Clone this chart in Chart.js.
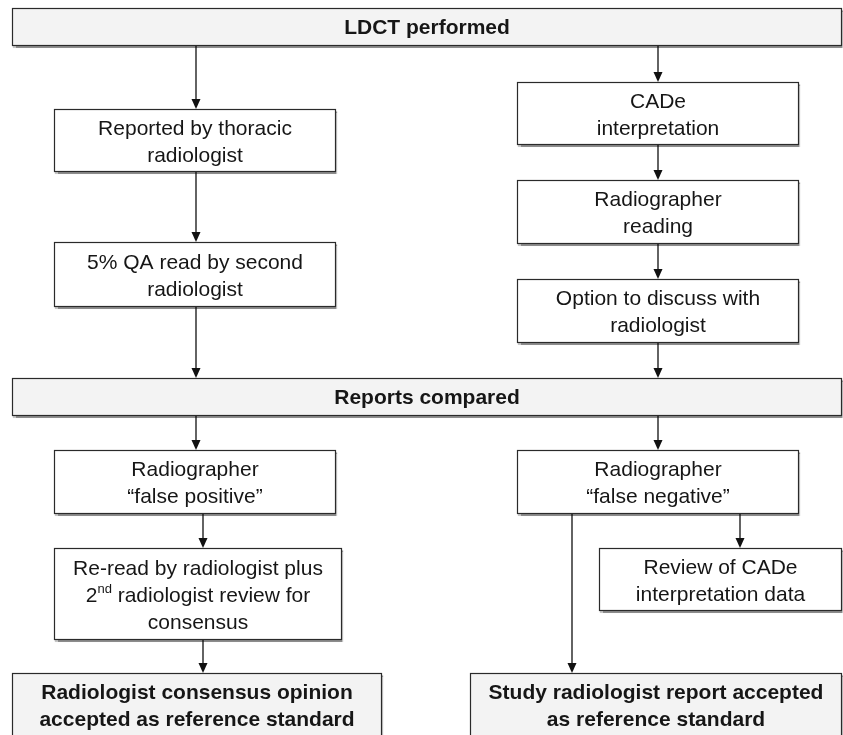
<!DOCTYPE html>
<html>
<head>
<meta charset="utf-8">
<script src="https://cdn.jsdelivr.net/npm/chart.js@4"></script>
<style>
  body { margin: 0; background: #fff; }
</style>
</head>
<body>
<canvas id="flow" width="843" height="735"></canvas>
<script>
// Flow boxes: lines of text (^ marks a superscript), edges in chart units
const boxText = [
    ["LDCT performed"],
    ["Reported by thoracic", "radiologist"],
    ["CADe", "interpretation"],
    ["Radiographer", "reading"],
    ["Option to discuss with", "radiologist"],
    ["5% QA read by second", "radiologist"],
    ["Reports compared"],
    ["Radiographer", "\u201cfalse positive\u201d"],
    ["Radiographer", "\u201cfalse negative\u201d"],
    ["Review of CADe", "interpretation data"],
    ["Re-read by radiologist plus", "2^nd radiologist review for", "consensus"],
    ["Radiologist consensus opinion", "accepted as reference standard"],
    ["Study radiologist report accepted", "as reference standard"]
];
const boxLeft   = [12, 54, 517, 517, 517, 54, 12, 54, 517, 599, 54, 12, 470];
const boxRight  = [842, 336, 799, 799, 799, 336, 842, 336, 799, 842, 342, 382, 842];
const boxTop    = [8, 109, 82, 180, 279, 242, 378, 450, 450, 548, 548, 673, 673];
const boxBottom = [46, 172, 145, 244, 343, 307, 416, 514, 514, 611, 640, 738, 738];
const boxShaded = [true, false, false, false, false, false, true, false, false, false, false, true, true];

// Arrows: x position, start y, end y (arrowhead at the end)
const arrowX    = [196, 658, 196, 658, 658, 196, 658, 196, 658, 203, 740, 203, 572];
const arrowFrom = [46, 46, 172, 145, 244, 307, 343, 416, 416, 514, 514, 640, 514];
const arrowTo   = [109, 82, 242, 180, 279, 378, 378, 450, 450, 548, 548, 673, 673];

const lineColor = "#111111";
const fontName = "'Liberation Sans', Arial, sans-serif";

const arrowSets = arrowX.map((x, i) => ({
    data: [{x: x, y: arrowFrom[i]}, {x: x, y: arrowTo[i] - 6}],
    showLine: true,
    borderColor: lineColor,
    borderWidth: 1.3,
    pointRadius: 0
}));

function drawLine(ctx, line, cx, y, bold) {
    const size = 21;
    const parts = line.split(/\^(\w+)/);
    const segs = parts.map((t, k) => ({
        text: t,
        sup: k % 2 === 1
    }));
    let total = 0;
    segs.forEach(s => {
        ctx.font = (bold ? "bold " : "") + (s.sup ? 13 : size) + "px " + fontName;
        s.w = ctx.measureText(s.text).width;
        total += s.w;
    });
    let x = cx - total / 2;
    segs.forEach(s => {
        ctx.font = (bold ? "bold " : "") + (s.sup ? 13 : size) + "px " + fontName;
        ctx.fillText(s.text, x, s.sup ? y - 7 : y);
        x += s.w;
    });
}

const flowPlugin = {
    id: "flowBoxes",
    afterDatasetsDraw(chart) {
        const ctx = chart.ctx;
        const xs = chart.scales.x;
        const ys = chart.scales.y;
        ctx.save();

        // arrow heads
        ctx.fillStyle = lineColor;
        arrowX.forEach((x, i) => {
            const px = xs.getPixelForValue(x);
            const py = ys.getPixelForValue(arrowTo[i]);
            ctx.beginPath();
            ctx.moveTo(px, py);
            ctx.lineTo(px - 4.5, py - 10);
            ctx.lineTo(px + 4.5, py - 10);
            ctx.closePath();
            ctx.fill();
        });

        // boxes
        boxText.forEach((lines, i) => {
            const l = xs.getPixelForValue(boxLeft[i]);
            const r = xs.getPixelForValue(boxRight[i]);
            const t = ys.getPixelForValue(boxTop[i]);
            const b = ys.getPixelForValue(boxBottom[i]);
            ctx.save();
            ctx.shadowColor = "rgba(0,0,0,0.45)";
            ctx.shadowOffsetX = 1;
            ctx.shadowOffsetY = 1.5;
            ctx.shadowBlur = 1;
            ctx.fillStyle = boxShaded[i] ? "#f3f3f3" : "#ffffff";
            ctx.fillRect(l, t, r - l, b - t);
            ctx.restore();
            ctx.strokeStyle = "#2a2a2a";
            ctx.lineWidth = 1.2;
            ctx.strokeRect(l + 0.5, t + 0.5, r - l - 1, b - t - 1);

            ctx.fillStyle = "#161616";
            ctx.textAlign = "left";
            ctx.textBaseline = "middle";
            const cx = (l + r) / 2;
            const cy = (t + b) / 2 + (boxShaded[i] ? 1 : 2);
            const gap = 26.8;
            lines.forEach((line, k) => {
                const y = cy + (k - (lines.length - 1) / 2) * gap;
                drawLine(ctx, line, cx, y, boxShaded[i]);
            });
        });
        ctx.restore();
    }
};

new Chart("flow", {
    type: "scatter",
    data: { datasets: arrowSets },
    options: {
        responsive: false,
        animation: false,
        layout: { padding: 0 },
        plugins: {
            legend: { display: false },
            tooltip: { enabled: false }
        },
        scales: {
            x: { type: "linear", min: 0, max: 843, display: false },
            y: { type: "linear", min: 0, max: 735, reverse: true, display: false }
        }
    },
    plugins: [flowPlugin]
});
</script>
</body>
</html>
